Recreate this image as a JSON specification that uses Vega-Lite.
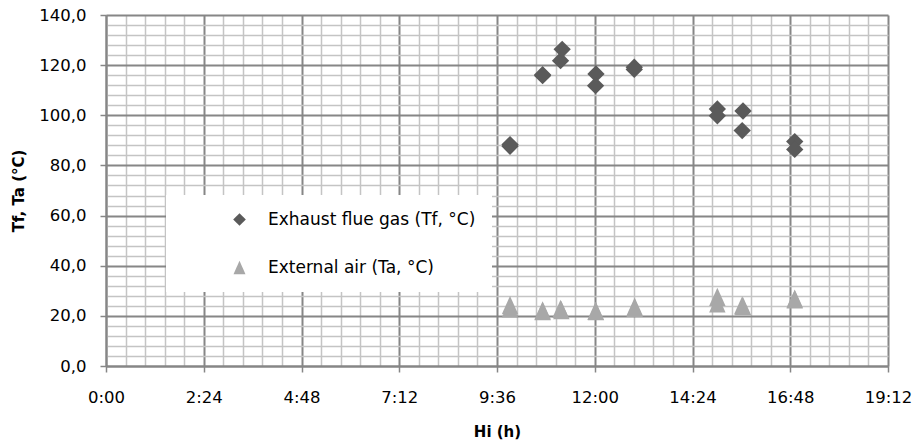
{
  "$schema": "https://vega.github.io/schema/vega-lite/v6.json",
  "width": 782,
  "height": 351,
  "autosize": "none",
  "padding": {"left": 106, "top": 15, "right": 29, "bottom": 74},
  "background": "white",
  "config": {
    "font": "DejaVu Sans",
    "view": {"stroke": null},
    "axis": {
      "labelColor": "black",
      "labelFontSize": 16.5,
      "labelFont": "DejaVu Sans",
      "titleColor": "black",
      "titleFontSize": 15,
      "titleFontWeight": "bold",
      "titleFont": "DejaVu Sans",
      "domainColor": "#868686",
      "domainWidth": 2,
      "tickColor": "#868686",
      "tickWidth": 1.5,
      "tickSize": 6,
      "labelOverlap": false,
      "labelFlush": false
    }
  },
  "data": {
    "values": [
      {"hour": 9.92, "temp": 87.6, "series": "Exhaust flue gas (Tf, °C)"},
      {"hour": 9.92, "temp": 88.3, "series": "Exhaust flue gas (Tf, °C)"},
      {"hour": 10.72, "temp": 115.8, "series": "Exhaust flue gas (Tf, °C)"},
      {"hour": 10.72, "temp": 116.2, "series": "Exhaust flue gas (Tf, °C)"},
      {"hour": 11.16, "temp": 121.8, "series": "Exhaust flue gas (Tf, °C)"},
      {"hour": 11.2, "temp": 126.3, "series": "Exhaust flue gas (Tf, °C)"},
      {"hour": 12.03, "temp": 116.5, "series": "Exhaust flue gas (Tf, °C)"},
      {"hour": 12.02, "temp": 111.8, "series": "Exhaust flue gas (Tf, °C)"},
      {"hour": 12.97, "temp": 118.3, "series": "Exhaust flue gas (Tf, °C)"},
      {"hour": 12.97, "temp": 119.2, "series": "Exhaust flue gas (Tf, °C)"},
      {"hour": 15.01, "temp": 102.5, "series": "Exhaust flue gas (Tf, °C)"},
      {"hour": 15.01, "temp": 99.8, "series": "Exhaust flue gas (Tf, °C)"},
      {"hour": 15.64, "temp": 101.7, "series": "Exhaust flue gas (Tf, °C)"},
      {"hour": 15.62, "temp": 93.9, "series": "Exhaust flue gas (Tf, °C)"},
      {"hour": 16.91, "temp": 89.5, "series": "Exhaust flue gas (Tf, °C)"},
      {"hour": 16.91, "temp": 86.4, "series": "Exhaust flue gas (Tf, °C)"},
      {"hour": 9.92, "temp": 24.3, "series": "External air (Ta, °C)"},
      {"hour": 9.92, "temp": 23.0, "series": "External air (Ta, °C)"},
      {"hour": 10.72, "temp": 21.9, "series": "External air (Ta, °C)"},
      {"hour": 10.72, "temp": 22.2, "series": "External air (Ta, °C)"},
      {"hour": 11.18, "temp": 22.3, "series": "External air (Ta, °C)"},
      {"hour": 11.16, "temp": 22.8, "series": "External air (Ta, °C)"},
      {"hour": 12.03, "temp": 21.9, "series": "External air (Ta, °C)"},
      {"hour": 12.02, "temp": 22.0, "series": "External air (Ta, °C)"},
      {"hour": 12.98, "temp": 23.7, "series": "External air (Ta, °C)"},
      {"hour": 12.98, "temp": 23.2, "series": "External air (Ta, °C)"},
      {"hour": 15.01, "temp": 27.6, "series": "External air (Ta, °C)"},
      {"hour": 15.01, "temp": 25.0, "series": "External air (Ta, °C)"},
      {"hour": 15.62, "temp": 24.2, "series": "External air (Ta, °C)"},
      {"hour": 15.64, "temp": 23.9, "series": "External air (Ta, °C)"},
      {"hour": 16.91, "temp": 26.6, "series": "External air (Ta, °C)"},
      {"hour": 16.91, "temp": 26.9, "series": "External air (Ta, °C)"}
    ]
  },
  "mark": {"type": "point", "filled": true, "opacity": 1, "size": 300, "strokeWidth": 0},
  "encoding": {
    "x": {
      "field": "hour",
      "type": "quantitative",
      "scale": {"domain": [0, 19.2], "nice": false, "zero": false},
      "axis": {
        "title": "Hi (h)",
        "titlePadding": 19,
        "labelPadding": 17,
        "values": [0, 0.48, 0.96, 1.44, 1.92, 2.4, 2.88, 3.36, 3.84, 4.32, 4.8, 5.28, 5.76, 6.24, 6.72, 7.2, 7.68, 8.16, 8.64, 9.12, 9.6, 10.08, 10.56, 11.04, 11.52, 12, 12.48, 12.96, 13.44, 13.92, 14.4, 14.88, 15.36, 15.84, 16.32, 16.8, 17.28, 17.76, 18.24, 18.72, 19.2],
        "labelExpr": "abs(datum.value/2.4 - round(datum.value/2.4)) < 0.001 ? floor(round(datum.value*60)/60) + ':' + (round(datum.value*60)%60 < 10 ? '0' : '') + (round(datum.value*60)%60) : ''",
        "grid": true,
        "gridColor": {"condition": {"test": "abs(datum.value/2.4 - round(datum.value/2.4)) < 0.001", "value": "#868686"}, "value": "#c4c4c4"},
        "gridWidth": {"condition": {"test": "abs(datum.value/2.4 - round(datum.value/2.4)) < 0.001", "value": 2}, "value": 1.5},
        "tickOpacity": {"condition": {"test": "abs(datum.value/2.4 - round(datum.value/2.4)) < 0.001", "value": 1}, "value": 0}
      }
    },
    "y": {
      "field": "temp",
      "type": "quantitative",
      "scale": {"domain": [0, 140], "nice": false},
      "axis": {
        "title": "Tf, Ta  (°C)",
        "titlePadding": 12,
        "labelPadding": 14,
        "values": [0, 4, 8, 12, 16, 20, 24, 28, 32, 36, 40, 44, 48, 52, 56, 60, 64, 68, 72, 76, 80, 84, 88, 92, 96, 100, 104, 108, 112, 116, 120, 124, 128, 132, 136, 140],
        "labelExpr": "datum.value % 20 === 0 ? replace(format(datum.value, '.1f'), '.', ',') : ''",
        "grid": true,
        "gridColor": {"condition": {"test": "datum.value % 20 === 0", "value": "#868686"}, "value": "#c4c4c4"},
        "gridWidth": {"condition": {"test": "datum.value % 20 === 0", "value": 2}, "value": 1.5},
        "tickOpacity": {"condition": {"test": "datum.value % 20 === 0", "value": 1}, "value": 0}
      }
    },
    "color": {
      "field": "series",
      "type": "nominal",
      "scale": {"domain": ["Exhaust flue gas (Tf, °C)", "External air (Ta, °C)"], "range": ["#5a5a5a", "#a8a8a8"]},
      "legend": {
        "orient": "none",
        "legendX": 60,
        "legendY": 180,
        "title": null,
        "fillColor": "white",
        "strokeColor": null,
        "padding": 16,
        "symbolOffset": 49,
        "labelOffset": 20,
        "rowPadding": 30,
        "labelFontSize": 17,
        "labelFont": "DejaVu Sans",
        "labelColor": "black",
        "symbolSize": 160,
        "symbolStrokeWidth": 0,
        "labelLimit": 400
      }
    },
    "shape": {
      "field": "series",
      "type": "nominal",
      "scale": {"domain": ["Exhaust flue gas (Tf, °C)", "External air (Ta, °C)"], "range": ["diamond", "M0,-1.05L0.95,1.05L-0.95,1.05Z"]}
    }
  }
}
